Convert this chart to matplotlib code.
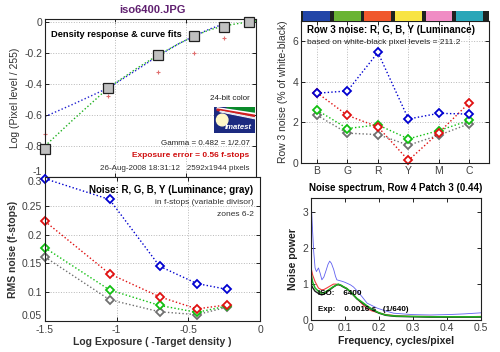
import matplotlib
matplotlib.use("Agg")
import matplotlib.pyplot as plt
from matplotlib.patches import Rectangle, Polygon, Ellipse

plt.rcParams['font.family'] = ['Liberation Sans', 'DejaVu Sans']

# ---------------- data ----------------
# Density response
dens_x = [-1.5, -1.05, -0.70, -0.44, -0.23, -0.05]
dens_y = [-0.82, -0.425, -0.215, -0.088, -0.033, 0.0]
plus_x = [-1.5, -1.05, -0.70, -0.44, -0.23]
plus_y = [-0.72, -0.48, -0.32, -0.20, -0.10]
fitb_x = [-1.5, -1.3, -1.05, -0.85, -0.7, -0.55, -0.44, -0.33, -0.23]
fitb_y = [-0.61, -0.53, -0.425, -0.31, -0.22, -0.14, -0.09, -0.045, -0.012]
fitg_x = [-1.5, -1.3, -1.05, -0.85, -0.7, -0.55, -0.44, -0.33, -0.23, -0.12, -0.05, 0.0]
fitg_y = [-0.80, -0.63, -0.425, -0.30, -0.215, -0.14, -0.09, -0.05, -0.025, -0.008, 0.0, 0.008]

# Noise in f-stops
noise_x = [-1.5, -1.05, -0.70, -0.44, -0.23]
noise_b = [0.297, 0.261, 0.145, 0.115, 0.105]
noise_r = [0.223, 0.132, 0.092, 0.071, 0.078]
noise_g = [0.177, 0.104, 0.077, 0.065, 0.076]
noise_y = [0.161, 0.087, 0.066, 0.061, 0.074]

# Row 3 noise
row_cats = ['B', 'G', 'R', 'Y', 'M', 'C']
row_b = [3.44, 3.55, 5.45, 2.17, 2.45, 2.41]
row_r = [3.47, 2.35, 1.78, 0.13, 1.50, 2.98]
row_g = [2.61, 1.70, 1.88, 1.19, 1.60, 2.10]
row_y = [2.36, 1.47, 1.40, 0.88, 1.37, 1.94]
patch_colors = ['#2246a8', '#6ab434', '#f0582c', '#f8e444', '#f08cc4', '#2aa6b8']

# Noise spectrum
sp_f_b = [0, 0.004, 0.008, 0.012, 0.016, 0.022, 0.027, 0.032, 0.038, 0.045, 0.050, 0.055, 0.060,
          0.067, 0.072, 0.076, 0.083, 0.091, 0.10, 0.116, 0.125, 0.135, 0.15, 0.165, 0.18, 0.195,
          0.22, 0.243, 0.27, 0.3, 0.35, 0.4, 0.45, 0.5]
sp_b = [3.42, 2.6, 1.9, 1.45, 1.35, 1.45, 1.3, 1.12, 1.2, 1.4, 1.55, 1.64, 1.58,
        1.4, 1.22, 1.12, 1.1, 1.08, 1.05, 0.98, 0.92, 0.82, 0.65, 0.47, 0.4, 0.33,
        0.25, 0.19, 0.17, 0.15, 0.14, 0.15, 0.17, 0.2]
sp_f = [0, 0.005, 0.012, 0.022, 0.031, 0.038, 0.046, 0.055, 0.066, 0.074, 0.08, 0.088, 0.095, 0.105,
        0.115, 0.125, 0.135, 0.15, 0.164, 0.18, 0.2, 0.22, 0.25, 0.3, 0.35, 0.4, 0.45, 0.5]
sp_r = [1.46, 1.25, 1.07, 0.89, 0.84, 0.85, 0.89, 0.94, 1.0, 1.0, 0.98, 0.97, 0.93, 0.88,
        0.79, 0.7, 0.6, 0.45, 0.32, 0.25, 0.2, 0.15, 0.12, 0.1, 0.1, 0.09, 0.09, 0.1]
sp_g = [1.3, 1.05, 0.89, 0.8, 0.75, 0.76, 0.8, 0.86, 0.93, 0.97, 1.0, 0.97, 0.93, 0.88,
        0.8, 0.7, 0.6, 0.5, 0.4, 0.3, 0.2, 0.14, 0.11, 0.1, 0.09, 0.09, 0.09, 0.09]
sp_k = [1.0, 0.9, 0.8, 0.74, 0.7, 0.72, 0.77, 0.84, 0.92, 0.97, 0.99, 0.96, 0.92, 0.87,
        0.79, 0.69, 0.59, 0.48, 0.38, 0.28, 0.19, 0.13, 0.1, 0.09, 0.08, 0.08, 0.08, 0.08]

# ---------------- style helpers ----------------
W, H = 500, 352
fig = plt.figure(figsize=(W / 100, H / 100), dpi=100)
TICKC = '#404040'
DOT = (0, (1, 1.6))


def box(x0, y0, x1, y1):
    return [x0 / W, 1 - y1 / H, (x1 - x0) / W, (y1 - y0) / H]


def style(ax):
    ax.tick_params(direction='in', top=True, right=True, length=3, width=0.6,
                   labelsize=7.5, labelcolor=TICKC, pad=2)
    for s in ax.spines.values():
        s.set_linewidth(0.8)
        s.set_color('#202020')
    ax.grid(True, color='#b8b8b8', linestyle=':', linewidth=0.7)
    ax.set_axisbelow(True)


# ---------------- top-left: density response ----------------
ax1 = fig.add_axes(box(45, 19, 256, 177))
style(ax1)
ax1.plot(fitb_x, fitb_y, color='#2020d0', linestyle=DOT, lw=1.0)
ax1.plot(fitg_x, fitg_y, color='#20b020', linestyle=DOT, lw=1.0)
ax1.plot(plus_x, plus_y, linestyle='none', marker='+', color='#e07070', ms=3.5, mew=0.8,
         clip_on=False)
ax1.plot(dens_x, dens_y, linestyle='none', marker='s', ms=6.5, mfc='#c0c0c0', mec='#202020',
         mew=0.9, clip_on=False, zorder=5)
ax1.set_xlim(-1.5, 0)
ax1.set_ylim(-1, 0.02)
ax1.set_xticks([-1.5, -1, -0.5, 0])
ax1.set_xticklabels([])
ax1.set_yticks([-1, -0.8, -0.6, -0.4, -0.2, 0])
ax1.set_yticklabels(['-1', '-0.8', '-0.6', '-0.4', '-0.2', '0'])
ax1.get_yticklabels()[0].set_va('bottom')
ax1.set_ylabel('Log (Pixel level / 255)', fontsize=7.5, color='#303030', labelpad=3)
ax1.text(0.03, 0.9, 'Density response & curve fits', transform=ax1.transAxes,
         fontsize=6.7, fontweight='bold', ha='left', va='center')
ax1.text(0.97, 0.495, '24-bit color', transform=ax1.transAxes, fontsize=5.8,
         ha='right', va='center', color='#202020')
ax1.text(0.97, 0.21, 'Gamma = 0.482 = 1/2.07', transform=ax1.transAxes, fontsize=5.8,
         ha='right', va='center', color='#202020')
ax1.text(0.97, 0.135, 'Exposure error = 0.56 f-stops', transform=ax1.transAxes, fontsize=6,
         ha='right', va='center', color='#d01010', fontweight='bold')
ax1.text(0.97, 0.055, '26-Aug-2008 18:31:12   2592x1944 pixels', transform=ax1.transAxes,
         fontsize=5.8, ha='right', va='center', color='#303030')

# Imatest logo
lg = fig.add_axes(box(214, 107, 255, 133))
lg.set_xlim(0, 1)
lg.set_ylim(0, 1)
lg.axis('off')
lg.add_patch(Rectangle((0, 0), 1, 1, color='#1c2a80'))
lg.add_patch(Polygon([[0.32, 1], [1, 1], [1, 0.78], [0.32, 0.97]], closed=True, color='#0a8a2a'))
lg.add_patch(Polygon([[0.08, 0.97], [1, 0.75], [1, 0.70], [0.08, 0.93]], closed=True, color='white'))
lg.add_patch(Polygon([[0.08, 0.92], [1, 0.68], [1, 0.61], [0.08, 0.87]], closed=True, color='#d02020'))
lg.add_patch(Polygon([[0.15, 0.84], [1, 0.58], [1, 0.55], [0.15, 0.82]], closed=True, color='#e8e8f0'))
lg.add_patch(Ellipse((0.2, 0.5), 0.28, 0.45, color='#fff8c8'))
lg.text(0.6, 0.2, 'Imatest', fontsize=5.6, color='white', fontweight='bold',
        fontstyle='italic', ha='center', va='center')

# ---------------- bottom-left: noise in f-stops ----------------
ax2 = fig.add_axes(box(45, 177, 260, 321))
style(ax2)
for vals, c in [(noise_y, '#707070'), (noise_g, '#10c010'), (noise_r, '#e01010'), (noise_b, '#0000d0')]:
    ax2.plot(noise_x, vals, color=c, linestyle=DOT, lw=1.0, marker='D', ms=4.2,
             mfc='white', mec=c, mew=1.3, clip_on=False)
ax2.set_xlim(-1.5, 0)
ax2.set_ylim(0.05, 0.3)
ax2.set_xticks([-1.5, -1, -0.5, 0])
ax2.set_xticklabels(['-1.5', '-1', '-0.5', '0'])
ax2.set_yticks([0.05, 0.1, 0.15, 0.2, 0.25, 0.3])
ax2.set_yticklabels(['0.05', '0.1', '0.15', '0.2', '0.25', '0.3'])
ax2.get_yticklabels()[0].set_va('bottom')
ax2.get_yticklabels()[-1].set_va('top')
ax2.tick_params(axis='x', pad=3)
ax2.set_ylabel('RMS noise (f-stops)', fontsize=7.5, fontweight='bold', color='#303030', labelpad=3)
ax2.set_xlabel('Log Exposure ( -Target density )', fontsize=7.5, fontweight='bold',
               color='#303030', labelpad=1)
ax2.text(0.97, 0.91, 'Noise: R, G, B, Y (Luminance; gray)', transform=ax2.transAxes,
         fontsize=7, fontweight='bold', ha='right', va='center')
ax2.text(0.97, 0.825, 'in f-stops (variable divisor)', transform=ax2.transAxes,
         fontsize=6, ha='right', va='center', color='#303030')
ax2.text(0.97, 0.74, 'zones 6-2', transform=ax2.transAxes,
         fontsize=6, ha='right', va='center', color='#303030')

# ---------------- top-right: row 3 noise ----------------
xpos = list(range(1, len(row_cats) + 1))
ax3 = fig.add_axes(box(301, 21, 489, 163))
style(ax3)
for vals, c in [(row_y, '#707070'), (row_g, '#10c010'), (row_r, '#e01010'), (row_b, '#0000d0')]:
    ax3.plot(xpos, vals, color=c, linestyle=DOT, lw=1.0, marker='D', ms=4.2,
             mfc='white', mec=c, mew=1.3, clip_on=False)
ax3.set_xlim(0.48, 6.64)
ax3.set_ylim(0, 7)
ax3.set_xticks(xpos)
ax3.set_xticklabels(row_cats)
ax3.set_yticks([0, 2, 4, 6])
ax3.set_ylabel('Row 3 noise (% of white-black)', fontsize=7.5, color='#303030', labelpad=3)
ax3.text(0.03, 0.935, 'Row 3 noise: R, G, B, Y (Luminance)', transform=ax3.transAxes,
         fontsize=7, fontweight='bold', ha='left', va='center')
ax3.text(0.03, 0.85, 'based on white-black pixel levels = 211.2', transform=ax3.transAxes,
         fontsize=6, ha='left', va='center', color='#202020')

axc = fig.add_axes(box(301, 11, 489, 21))
axc.set_facecolor('#1e2220')
axc.bar(xpos, [1] * len(xpos), width=0.88, color=patch_colors, bottom=0)
axc.set_xlim(0.48, 6.64)
axc.set_ylim(0, 1)
axc.set_xticks([])
axc.set_yticks([])
for s in axc.spines.values():
    s.set_visible(False)

# ---------------- bottom-right: noise spectrum ----------------
ax4 = fig.add_axes(box(311, 198, 481, 320))
style(ax4)
ax4.grid(False)
ax4.plot(sp_f_b, sp_b, color='#6060f0', lw=0.6)
ax4.plot(sp_f, sp_r, color='#f04040', lw=0.8)
ax4.plot(sp_f, sp_k, color='#202020', lw=1.0)
ax4.plot(sp_f, sp_g, color='#20b020', lw=1.1)
ax4.set_xlim(0, 0.5)
ax4.set_ylim(0, 3.4)
ax4.set_xticks([0, 0.1, 0.2, 0.3, 0.4, 0.5])
ax4.set_xticklabels(['0', '0.1', '0.2', '0.3', '0.4', '0.5'])
ax4.set_yticks([0, 1, 2, 3])
ax4.set_title('Noise spectrum, Row 4 Patch 3 (0.44)', fontsize=7, fontweight='bold', pad=5)
ax4.set_xlabel('Frequency, cycles/pixel', fontsize=7.5, fontweight='bold', color='#202020', labelpad=2)
ax4.set_ylabel('Noise power', fontsize=7.5, fontweight='bold', color='#202020', labelpad=3)
ax4.text(0.04, 0.22, 'ISO:    6400', transform=ax4.transAxes, fontsize=5.8,
         fontweight='bold', ha='left', va='center')
ax4.text(0.04, 0.09, 'Exp:    0.0016 s   (1/640)', transform=ax4.transAxes, fontsize=5.8,
         fontweight='bold', ha='left', va='center')

fig.text(152 / W, 1 - 10 / H, 'iso6400.JPG', fontsize=8, fontweight='bold', color='#602070',
         ha='center', va='center')

fig.savefig('out.png', dpi=100)
